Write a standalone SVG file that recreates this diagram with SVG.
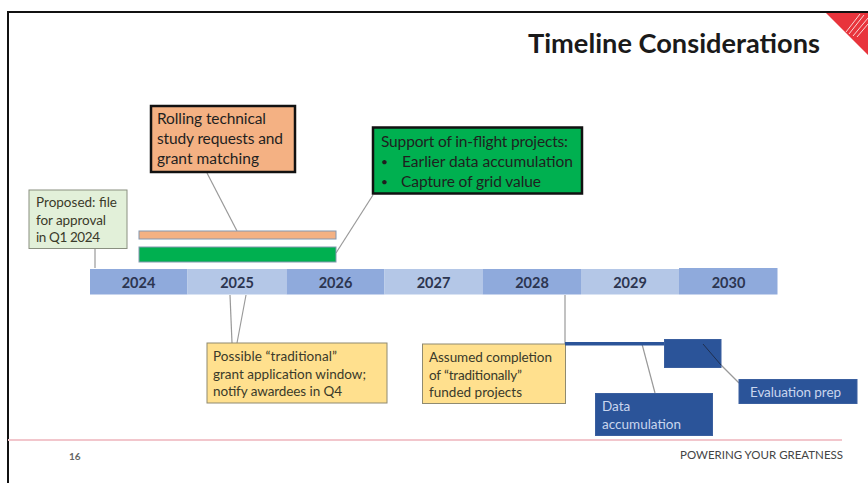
<svg xmlns="http://www.w3.org/2000/svg" width="868" height="483" viewBox="0 0 868 483">
<style>
text{font-family:Lato,"Open Sans","Liberation Sans",sans-serif;fill:#333}
.l{stroke:#999;stroke-width:1.2;fill:none}
.t{font-size:13.5px;fill:#3a3a2a}
.b{font-size:15.500px;fill:#1f1f1f}
.y{font-size:14.500px;text-anchor:middle;fill:#2c3550;font-weight:700}
.yb{fill:#ffe08e;stroke:#8f8a70;stroke-width:1}
.d{fill:#2b5499;stroke:#3a5f9f;stroke-width:1}
.w{font-size:13.5px;fill:#c9d6ee}
</style>
<rect x="0" y="0" width="868" height="483" fill="#fff"/>
<path d="M8 483V12H868" fill="none" stroke="#111" stroke-width="2"/>
<g id="logo"><path d="M826 13H868V55Z" fill="#e8343c"/><path d="M846 32L860 14M849 34L864 15M853 36L868 18M857 37L868 24" stroke="#f9d5d5" stroke-width="1" fill="none"/></g>
<text id="title" x="528" y="53" textLength="292" lengthAdjust="spacingAndGlyphs" style="font-size:26px;font-weight:700;fill:#1a1a1a">Timeline Considerations</text>
<g id="connectors">
<line class="l" x1="95" y1="248" x2="95" y2="268"/>
<line class="l" x1="207" y1="173" x2="237" y2="231"/>
<line class="l" x1="336" y1="253" x2="373" y2="195"/>
<line class="l" x1="230" y1="295" x2="232" y2="343"/>
<line class="l" x1="246" y1="295" x2="237" y2="343"/>
<line class="l" x1="565" y1="295" x2="565" y2="344"/>
<line class="l" x1="642" y1="344" x2="655" y2="393"/>
<line class="l" x1="721" y1="365" x2="739" y2="383"/>
</g>
<g id="footer"><rect x="8" y="439" width="834" height="2" fill="#f2c6cc"/>
<text x="69" y="460" style="font-size:10px;font-weight:700;fill:#666">16</text>
<text x="680" y="459" textLength="163" lengthAdjust="spacingAndGlyphs" style="font-size:10.500px;fill:#444">POWERING YOUR GREATNESS</text></g>
<g id="bars">
<rect x="139" y="231" width="197" height="8" fill="#f4b183" stroke="#8497b0" stroke-width="1"/>
<rect x="139" y="247" width="197" height="15" fill="#00b050" stroke="#8497b0" stroke-width="1"/>
</g>
<g id="timeline">
<rect x="90" y="269" width="97.500" height="25.500" fill="#8faadc"/><text class="y" x="138.500" y="287.500">2024</text>
<rect x="187.500" y="269" width="99" height="25.500" fill="#b4c7e7"/><text class="y" x="237" y="287.500">2025</text>
<rect x="286.500" y="269" width="98" height="25.500" fill="#8faadc"/><text class="y" x="335.500" y="287.500">2026</text>
<rect x="384.500" y="269" width="98" height="25.500" fill="#b4c7e7"/><text class="y" x="433.500" y="287.500">2027</text>
<rect x="482.500" y="269" width="98.500" height="25.500" fill="#8faadc"/><text class="y" x="532" y="287.500">2028</text>
<rect x="581" y="269" width="98" height="25.500" fill="#b4c7e7"/><text class="y" x="630" y="287.500">2029</text>
<rect x="679" y="268" width="98.500" height="26.500" fill="#8faadc"/><text class="y" x="728.500" y="287.500">2030</text>
</g>
<g id="proposed"><rect x="29" y="190" width="98" height="58.500" fill="#e2f0d9" stroke="#8a9080" stroke-width="1"/>
<text class="t" x="36" y="207" textLength="81">Proposed: file</text><text class="t" x="36" y="225" textLength="70">for approval</text><text class="t" x="36" y="242" textLength="64">in Q1 2024</text></g>
<g id="rolling"><rect x="151" y="106" width="144" height="66" fill="#f4b183" stroke="#111" stroke-width="2.500"/>
<text class="b" x="157" y="124" textLength="109">Rolling technical</text><text class="b" x="157" y="144" textLength="126">study requests and</text><text class="b" x="157" y="164" textLength="102">grant matching</text></g>
<g id="support"><rect x="373" y="127.500" width="209" height="66" fill="#00b050" stroke="#111" stroke-width="2.500"/>
<text class="b" x="381" y="147" textLength="187">Support of in-flight projects:</text>
<text x="381" y="166" style="font-size:12px;fill:#1f1f1f">•</text><text class="b" x="402" y="167" textLength="171">Earlier data accumulation</text>
<text x="381" y="186" style="font-size:12px;fill:#1f1f1f">•</text><text class="b" x="401" y="187" textLength="140">Capture of grid value</text></g>
<g id="traditional"><rect x="207" y="343" width="180" height="60" class="yb"/>
<text class="t" x="213" y="361" textLength="124">Possible “traditional”</text><text class="t" x="213" y="379" textLength="153">grant application window;</text><text class="t" x="213" y="396" textLength="129">notify awardees in Q4</text></g>
<g id="assumed"><rect x="422.500" y="344" width="143" height="59.500" class="yb"/>
<text class="t" x="429" y="362" textLength="123">Assumed completion</text><text class="t" x="429" y="380" textLength="93">of “traditionally”</text><text class="t" x="429" y="397" textLength="93">funded projects</text></g>
<g id="accum-bar"><rect x="565" y="342" width="100" height="3.500" fill="#2b5499"/><rect x="664.500" y="339.500" width="56.500" height="28" class="d"/><line x1="703" y1="344" x2="721" y2="365" stroke="#1f2f50" stroke-width="1"/></g>
<g id="data"><rect x="595.500" y="393.500" width="117" height="42" class="d"/>
<text class="w" x="602" y="411">Data</text><text class="w" x="602" y="429" textLength="79">accumulation</text></g>
<g id="evaluation"><rect x="739" y="379.500" width="118" height="24" class="d"/>
<text class="w" x="750" y="397" textLength="91">Evaluation prep</text></g>
</svg>
